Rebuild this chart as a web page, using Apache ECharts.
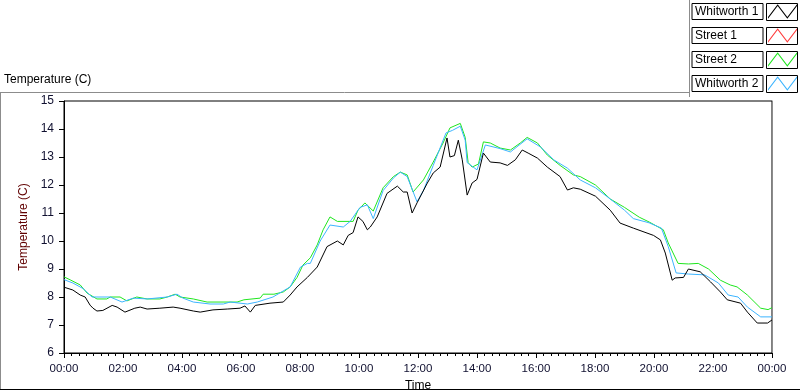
<!DOCTYPE html>
<html>
<head>
<meta charset="utf-8">
<script src="https://cdn.jsdelivr.net/npm/echarts@6/dist/echarts.min.js"></script>
<style>
html,body{margin:0;padding:0;background:#fff;}
#chart{width:800px;height:392px;}
</style>
</head>
<body>
<div id="chart"></div>
<script>
// series names, as in the legend
const seriesNames = ['Whitworth 1', 'Street 1', 'Street 2', 'Whitworth 2']
const seriesColors = ['#000000', '#ff3c3c', '#1ee61e', '#3cb4ff']

// readings: minutes since midnight / temperature (C)
const w1Time = [0,18,33,43,53,59,67,79,98,108,124,144,155,169,195,222,236,263,277,303,332,358,368,379,389,419,446,460,474,495,515,535,556,568,578,588,598,608,617,623,637,657,678,690,698,708,718,739,751,765,779,785,794,802,810,820,830,840,853,867,887,902,918,932,944,963,983,1009,1024,1036,1050,1081,1111,1131,1158,1199,1213,1223,1237,1243,1260,1270,1294,1315,1335,1349,1376,1390,1410,1431,1440]
const w1Temp = [8.35,8.25,8.07,8.0,7.71,7.6,7.5,7.52,7.7,7.64,7.46,7.6,7.64,7.57,7.6,7.64,7.6,7.5,7.46,7.54,7.57,7.6,7.68,7.46,7.7,7.78,7.82,8.07,8.36,8.7,9.07,9.8,10.0,9.86,10.2,10.3,10.86,10.7,10.4,10.5,10.86,11.7,11.96,11.75,11.75,11.0,11.36,12.07,12.43,12.64,13.68,13.0,13.05,13.6,12.9,11.64,12.07,12.2,13.14,12.82,12.79,12.7,12.9,13.25,13.14,12.96,12.64,12.3,11.82,11.9,11.85,11.6,11.1,10.64,10.46,10.2,10.04,9.57,8.6,8.68,8.7,9.0,8.9,8.54,8.18,7.9,7.78,7.46,7.07,7.07,7.18]

// Street 1 has no readings in the plot
const s1Time = []
const s1Temp = []

const s2Time = [0,14,33,47,67,87,94,114,128,148,169,195,210,226,236,263,291,352,366,399,405,427,446,460,474,486,501,515,527,541,556,588,598,612,629,649,670,684,698,710,731,751,771,785,806,816,822,830,843,853,867,887,908,928,942,963,983,1009,1036,1050,1081,1111,1140,1170,1190,1219,1229,1249,1270,1290,1311,1335,1355,1369,1390,1417,1432,1440]
const s2Temp = [8.72,8.6,8.43,8.14,7.93,7.93,8.0,8.0,7.86,8.0,7.93,7.93,8.0,8.1,8.0,7.93,7.82,7.82,7.9,7.96,8.1,8.1,8.18,8.36,8.7,9.14,9.4,9.86,10.4,10.86,10.7,10.7,11.1,11.36,11.07,11.9,12.3,12.46,12.36,11.75,12.18,12.82,13.5,14.04,14.2,13.7,12.8,12.64,12.75,13.54,13.5,13.32,13.25,13.5,13.7,13.5,13.07,12.7,12.36,12.3,12.0,11.5,11.2,10.85,10.68,10.4,9.93,9.2,9.18,9.2,9.0,8.6,8.43,8.36,8.07,7.6,7.55,7.62]

const w2Time = [0,18,39,57,94,118,141,169,210,230,242,263,297,324,338,373,393,425,460,481,495,501,521,541,568,582,602,617,629,649,670,684,698,718,731,751,777,790,806,816,820,840,857,887,908,942,969,996,1024,1050,1081,1111,1140,1158,1190,1215,1229,1245,1270,1303,1331,1351,1371,1390,1417,1440]
const w2Temp = [8.62,8.5,8.3,8.0,8.0,7.82,7.96,7.93,8.0,8.1,7.96,7.82,7.75,7.75,7.82,7.75,7.82,8.0,8.36,9.07,9.2,9.2,10.0,10.57,10.5,10.7,11.2,11.29,10.8,11.8,12.25,12.46,12.3,11.4,11.8,12.7,13.86,13.95,14.1,13.6,12.8,12.54,13.43,13.3,13.18,13.65,13.36,12.9,12.6,12.18,11.9,11.5,11.1,10.8,10.65,10.46,9.8,8.86,8.82,8.79,8.5,8.07,8.0,7.64,7.29,7.29]

const allTimes = [w1Time, s1Time, s2Time, w2Time]
const allTemps = [w1Temp, s1Temp, s2Temp, w2Temp]

// 分钟 -> HH:MM
function fmtTime(v){
    let m = Math.round(v) % 1440
    let h = Math.floor(m / 60)
    let mm = m % 60
    return (h < 10 ? '0' : '') + h + ':' + (mm < 10 ? '0' : '') + mm
}

function pairs(times, temps){
    let out = []
    for (let i = 0; i < times.length; i++)
        out.push([times[i], temps[i]])
    return out
}

const FONT = 'Liberation Sans'

let series = []
for (let i = 0; i < seriesNames.length; i++) {
    series.push({
        name: seriesNames[i],
        type: 'line',
        data: pairs(allTimes[i], allTemps[i]),
        symbol: 'none',
        color: seriesColors[i],
        lineStyle: { width: 1, color: seriesColors[i] },
        z: i === 0 ? 5 : (i === 2 ? 3 : 4),
        animation: false
    })
}

// 图例右侧的小框
let iconFrames = []
for (let i = 0; i < 4; i++) {
    iconFrames.push({
        type: 'rect',
        shape: { x: 766.5, y: 3.5 + i * 24, width: 31, height: 17 },
        style: { fill: 'none', stroke: '#000', lineWidth: 1 },
        z: 100
    })
}

let option = {
    animation: false,
    textStyle: { fontFamily: FONT },
    title: {
        text: 'Temperature (C)',
        left: 4,
        top: 74,
        padding: 0,
        textStyle: { fontSize: 12, fontWeight: 'normal', color: '#000', fontFamily: FONT }
    },
    legend: {
        orient: 'vertical',
        right: 3,
        top: 3,
        padding: 0,
        align: 'right',
        itemWidth: 29,
        itemHeight: 15,
        itemGap: 7,
        icon: 'path://M0,14 L9,2 L18,14 L27,2 L27,3.6 L18,15.6 L9,3.6 L0,15.6 Z',
        itemStyle: { borderWidth: 0 },
        selectedMode: false,
        data: seriesNames,
        formatter: '{b|{name}}',
        textStyle: {
            rich: {
                b: {
                    fontSize: 12,
                    color: '#000',
                    fontFamily: FONT,
                    width: 65,
                    height: 15,
                    lineHeight: 15,
                    padding: [1, 3, 0, 3],
                    align: 'left',
                    borderColor: '#000',
                    borderWidth: 1
                }
            }
        }
    },
    grid: {
        left: 64,
        right: 28,
        top: 101,
        bottom: 39,
        outerBoundsMode: 'none',
        containLabel: false,
        show: true,
        borderColor: '#000',
        borderWidth: 1
    },
    xAxis: {
        type: 'value',
        min: 0,
        max: 1440,
        interval: 120,
        name: 'Time',
        nameLocation: 'middle',
        nameGap: 26,
        nameTextStyle: { fontSize: 12, color: '#000', fontFamily: FONT },
        axisLine: { lineStyle: { color: '#000', width: 1 } },
        axisTick: { length: 5, lineStyle: { color: '#000' } },
        minorTick: { show: true, splitNumber: 8, length: 3, lineStyle: { color: '#000' } },
        splitLine: { show: false },
        axisLabel: {
            formatter: fmtTime,
            fontSize: 11.5,
            color: '#101030',
            margin: 10,
            fontFamily: FONT
        }
    },
    yAxis: [{
        type: 'value',
        min: 6,
        max: 15,
        interval: 1,
        name: 'Temperature (C)',
        nameLocation: 'middle',
        nameGap: 24,
        nameTextStyle: { fontSize: 12, color: '#600000', fontFamily: FONT },
        axisLine: { show: true, lineStyle: { color: '#000', width: 1 } },
        axisTick: { show: true, length: 5, lineStyle: { color: '#000' } },
        splitLine: { show: false },
        axisLabel: { fontSize: 12, color: '#101030', margin: 10, fontFamily: FONT }
    }, {
        type: 'value',
        min: 6,
        max: 15,
        position: 'right',
        axisLine: { show: true, lineStyle: { color: '#8c8c8c', width: 1 } },
        axisTick: { show: false },
        axisLabel: { show: false },
        splitLine: { show: false }
    }],
    graphic: [
        // panel border lines
        { type: 'line', shape: { x1: 0, y1: 92.5, x2: 689, y2: 92.5 }, style: { stroke: '#8c8c8c', lineWidth: 1 } },
        { type: 'line', shape: { x1: 0.5, y1: 92, x2: 0.5, y2: 390 }, style: { stroke: '#8c8c8c', lineWidth: 1 } },
        { type: 'line', shape: { x1: 0, y1: 389.5, x2: 800, y2: 389.5 }, style: { stroke: '#000', lineWidth: 1 } },
        { type: 'line', shape: { x1: 689.5, y1: 0, x2: 689.5, y2: 97 }, style: { stroke: '#8c8c8c', lineWidth: 1 } }
    ].concat(iconFrames),
    series: series
}

let chartDom = echarts.init(document.querySelector('#chart'))
chartDom.setOption(option)
</script>
</body>
</html>
